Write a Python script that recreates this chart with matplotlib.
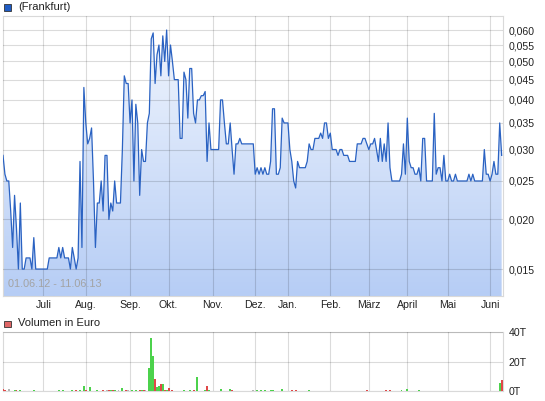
import matplotlib
matplotlib.use("Agg")
import matplotlib.pyplot as plt
import numpy as np
import pandas as pd
from matplotlib.colors import LinearSegmentedColormap
from matplotlib.patches import Polygon, Rectangle
from matplotlib.ticker import FixedLocator, FuncFormatter, NullLocator

plt.rcParams["font.family"] = ["Liberation Sans", "DejaVu Sans"]

# Frankfurt trading days 01.06.12 - 11.06.13
HOLIDAYS = ["2012-12-24", "2012-12-25", "2012-12-26", "2012-12-31",
            "2013-01-01", "2013-03-29", "2013-04-01", "2013-05-01"]
DAYS = pd.bdate_range("2012-06-01", "2013-06-11", freq="C", holidays=HOLIDAYS)

# closing price in 1/1000 EUR, one per trading day
PRICE_MILLI = [
    29, 26, 25, 25, 21, 17, 23, 19, 15, 22,
    15, 15, 16, 16, 16, 15, 18, 15, 15, 15,
    15, 15, 15, 15, 16, 16, 16, 16, 16, 17,
    16, 17, 16, 16, 16, 15, 17, 16, 15, 16,
    28, 17, 43, 35, 31, 32, 34, 25, 17, 22,
    22, 25, 21, 29, 29, 20, 22, 21, 25, 22,
    22, 22, 30, 46, 44, 44, 35, 40, 25, 39,
    35, 23, 30, 28, 28, 35, 37, 57, 59, 44,
    52, 55, 46, 58, 50, 60, 46, 55, 50, 45,
    45, 45, 32, 32, 47, 45, 36, 48, 48, 37,
    35, 40, 40, 41, 41, 42, 28, 35, 30, 30,
    30, 30, 30, 40, 40, 35, 31, 31, 35, 30,
    26, 31, 31, 32, 31, 31, 31, 31, 31, 31,
    31, 26, 27, 26, 27, 26, 27, 26, 26, 28,
    38, 38, 26, 26, 27, 36, 35, 35, 35, 30,
    28, 25, 24, 28, 27, 27, 27, 27, 28, 31,
    30, 30, 32, 32, 32, 33, 32, 35, 35, 32,
    33, 30, 30, 30, 29, 30, 30, 29, 29, 29,
    28, 28, 28, 28, 31, 31, 31, 32, 32, 31,
    30, 31, 31, 32, 30, 28, 32, 28, 31, 28,
    35, 27, 25, 25, 25, 25, 25, 26, 31, 26,
    36, 28, 27, 27, 26, 26, 27, 25, 32, 32,
    25, 25, 25, 25, 37, 26, 27, 27, 25, 29,
    25, 25, 26, 25, 25, 26, 25, 25, 25, 25,
    25, 25, 26, 25, 26, 25, 25, 25, 25, 25,
    30, 26, 26, 25, 26, 28, 26, 26, 35, 29,
]

# volume in thousand EUR, only days with a visible bar
VOL_DAY = [0, 1, 3, 6, 7, 9, 16, 29, 31, 36, 38, 40, 42, 43, 45, 49, 52, 54,
           55, 56, 57, 58, 60, 62, 64, 65, 67, 69, 71, 72, 73, 74, 76, 77, 78,
           79, 80, 81, 82, 83, 84, 85, 86, 88, 94, 97, 99, 101, 105, 106, 107,
           113, 118, 119, 130, 132, 134, 136, 139, 140, 145, 150, 152, 159,
           165, 169, 171, 175, 189, 192, 194, 196, 199, 201, 207, 210, 216,
           224, 229, 232, 235, 242, 244, 250, 252, 258, 259]
VOL_T = [1.3, 0.5, 1.3, 0.8, 0.4, 0.4, 0.4, 0.4, 0.4, 0.4, 0.4, 0.4, 3.4, 0.5,
         2.7, 0.5, 0.4, 0.4, 0.4, 0.4, 0.4, 0.4, 0.4, 2.0, 0.9, 0.6, 0.4, 0.4,
         0.4, 0.4, 0.4, 0.4, 15.6, 36.0, 24.0, 8.0, 2.5, 3.4, 4.7, 4.7, 0.9,
         0.5, 2.0, 0.4, 0.7, 0.5, 0.4, 9.5, 0.6, 3.4, 0.4, 1.3, 1.3, 0.7, 0.5,
         0.5, 0.5, 0.5, 0.8, 0.8, 1.3, 0.5, 0.5, 0.4, 0.3, 0.3, 0.3, 0.3, 0.8,
         0.3, 0.3, 0.3, 0.8, 0.4, 0.8, 1.3, 0.4, 0.3, 0.3, 0.3, 0.3, 0.3, 0.3,
         0.3, 0.3, 5.4, 7.5]

MONTHS = ["Juli", "Aug.", "Sep.", "Okt.", "Nov.", "Dez.", "Jan.", "Feb.",
          "März", "April", "Mai", "Juni"]
PRICE_TICKS = [0.015, 0.020, 0.025, 0.030, 0.035, 0.040, 0.045, 0.050, 0.055, 0.060]
VOL_TICKS = [0, 20, 40]

LINE = "#2a62c2"
FILL_TOP, FILL_BOT = "#f3f7fe", "#b6cdf5"
EDGE = "#d9d9d9"
UP, DOWN, FLAT = "#4cd24c", "#e04848", "#b4b4b4"
INK = "#222222"

price = np.array(PRICE_MILLI) / 1000.0
x = np.arange(len(price))
month_pos = [i for i in range(1, len(DAYS)) if DAYS[i].month != DAYS[i - 1].month]
YLO, YHI = 0.01283, 0.06508
XLO, XHI = 0, len(price) - 0.3

W, H = 545, 401
fig = plt.figure(figsize=(W / 100, H / 100), dpi=100)
ax = fig.add_axes([3 / W, 1 - 296 / H, 500 / W, 280 / H])
axv = fig.add_axes([3 / W, 1 - 391 / H, 500 / W, 59 / H])

# ---- price panel
ax.set_yscale("log")
grad = np.linspace(1, 0, 256).reshape(-1, 1)
ramp = LinearSegmentedColormap.from_list("fill", [FILL_BOT, FILL_TOP])
im = ax.imshow(grad, cmap=ramp, extent=(0, 1, 0, 1), transform=ax.transAxes,
               aspect="auto", origin="upper", zorder=1, interpolation="bilinear")
verts = list(zip(x, price)) + [(x[-1], YLO), (x[0], YLO)]
shape = Polygon(verts, closed=True, facecolor="none", edgecolor="none")
ax.add_patch(shape)
im.set_clip_path(shape)
ax.plot(x, price, color=LINE, lw=0.9, zorder=3)

ax.set_xlim(XLO, XHI)
ax.set_ylim(YLO, YHI)
ax.set_axisbelow(False)
ax.yaxis.set_major_locator(FixedLocator(PRICE_TICKS))
ax.yaxis.set_minor_locator(NullLocator())
ax.yaxis.set_major_formatter(FuncFormatter(lambda v, p: f"{v:.3f}".replace(".", ",")))
ax.yaxis.tick_right()
ax.set_xticks(month_pos)
ax.set_xticklabels(MONTHS)
ax.tick_params(axis="both", length=0, labelsize=7.6, colors=INK)
ax.tick_params(axis="y", pad=4)
ax.tick_params(axis="x", pad=3)
ax.grid(True, color="black", alpha=0.14, lw=0.8)
for s in ax.spines.values():
    s.set_color(EDGE)
ax.text(0.010, 0.025, "01.06.12 - 11.06.13", transform=ax.transAxes,
        color="#a3a3a3", fontsize=7.8, va="bottom", ha="left", zorder=4)

# ---- volume panel
colors = []
for d in VOL_DAY:
    ch = price[d] - price[d - 1] if d > 0 else -1
    colors.append(UP if ch > 0 else DOWN if ch < 0 else FLAT)
axv.bar(VOL_DAY, VOL_T, width=1.0, color=colors, linewidth=0, zorder=3)
axv.set_xlim(XLO, XHI)
axv.set_ylim(0, 40)
axv.set_axisbelow(False)
axv.yaxis.tick_right()
axv.set_yticks(VOL_TICKS)
axv.set_yticklabels([f"{v}T" for v in VOL_TICKS])
axv.set_xticks(month_pos)
axv.set_xticklabels([])
axv.tick_params(axis="both", length=0, labelsize=7.6, colors=INK)
axv.tick_params(axis="y", pad=4)
axv.grid(True, color="black", alpha=0.14, lw=0.8)
for s in axv.spines.values():
    s.set_color(EDGE)

# ---- legend boxes
fig.patches.append(Rectangle((4 / W, 1 - 10.5 / H), 6.5 / W, 6.5 / H, transform=fig.transFigure,
                             facecolor="#1f5cc4", edgecolor="#333333", lw=0.6))
fig.text(18 / W, 1 - 7 / H, "(Frankfurt)", fontsize=8, color=INK, va="center")
fig.patches.append(Rectangle((4 / W, 1 - 327 / H), 6.5 / W, 6.5 / H, transform=fig.transFigure,
                             facecolor="#e06666", edgecolor="#333333", lw=0.6))
fig.text(18 / W, 1 - 323.5 / H, "Volumen in Euro", fontsize=8, color=INK, va="center")

fig.savefig("out.png", dpi=100)
